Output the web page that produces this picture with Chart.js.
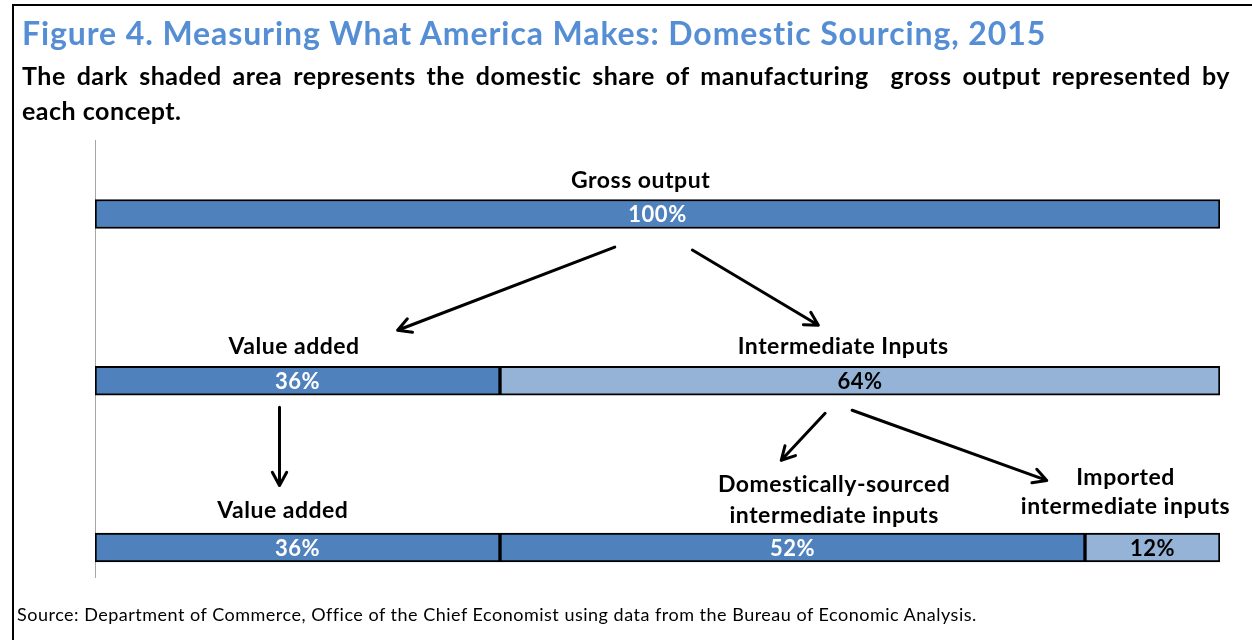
<!DOCTYPE html>
<html lang="en">
<head>
<meta charset="UTF-8">
<title>Figure 4. Measuring What America Makes: Domestic Sourcing, 2015</title>
<script src="https://cdn.jsdelivr.net/npm/chart.js"></script>
<style>
  body { margin: 0; background: #fff; font-family: Lato, "Open Sans", sans-serif; font-variant-ligatures: none; }
  #wrap { position: relative; width: 1252px; height: 640px; overflow: hidden; }
  #frame { position: absolute; left: 12px; top: 4px; right: -10px; bottom: -10px;
    border-left: 2px solid #000; border-top: 2px solid #000; }
  #chartBox { position: absolute; left: 0; top: 0; width: 1252px; height: 640px; }
  #title { position: absolute; left: 22px; top: 13px; font-size: 32px; font-weight: bold;
    letter-spacing: 0.9px; color: #558ed5; white-space: nowrap; }
  #subtitle { position: absolute; left: 22px; top: 58px; width: 1208px; font-size: 25px;
    letter-spacing: 0.5px; font-weight: bold; line-height: 35px; color: #000; }
  #subtitle .full { text-align: justify; text-align-last: justify; white-space: nowrap; }
  #source { position: absolute; left: 17px; top: 603px; font-size: 18px; letter-spacing: 0.5px;
    white-space: nowrap; color: #000; }
</style>
</head>
<body>
<div id="wrap">
  <div id="frame"></div>
  <div id="chartBox"><canvas id="chart"></canvas></div>
  <div id="title">Figure 4. Measuring What America Makes: Domestic Sourcing, 2015</div>
  <div id="subtitle"><div class="full">The dark shaded area represents the domestic share of manufacturing&nbsp; gross output represented by</div><div>each concept.</div></div>
  <div id="source">Source: Department of Commerce, Office of the Chief Economist using data from the Bureau of Economic Analysis.</div>
</div>
<script>
// rows of the figure, top to bottom
const rows = [0, 1, 2];
// share of gross output (%) in each segment of each row
const firstSegment = [100, 36, 36];
const secondSegment = [null, 64, 52];
const thirdSegment = [null, null, 12];
// is the segment domestic (dark) or not (light)
const firstDomestic = [true, true, true];
const secondDomestic = [null, false, true];
const thirdDomestic = [null, null, false];
// concept names written above the bars
const conceptNames = [
  ['Gross output'],
  ['Value added'],
  ['Intermediate Inputs'],
  ['Value added'],
  ['Domestically-sourced', 'intermediate inputs'],
  ['Imported', 'intermediate inputs']
];
const conceptRows = [0, 1, 1, 2, 2, 2];

const DARK = '#4f81bd';
const LIGHT = '#95b3d7';

// where the names sit: x in % of gross output, line baselines in px from bar centre
const nameLayout = [
  { x: 48.5, dy: [-26] },
  { x: 17.7, dy: [-27] },
  { x: 66.5, dy: [-27] },
  { x: 16.7, dy: [-29] },
  { x: 65.7, dy: [-55, -24] },
  { x: 91.6, dy: [-62, -33] }
];
// arrows: [x0, row0, x1, row1]
const arrows = [
  [46.2, 0.198, 26.9, 0.697],
  [53.1, 0.216, 64.3, 0.667],
  [16.4, 1.159, 16.4, 1.628],
  [64.9, 1.195, 61.0, 1.477],
  [67.3, 1.177, 84.6, 1.598]
];

function toPoints(values) {
  return rows.map((r, i) => ({ y: r, x: values[i] }));
}
function shade(flags) {
  return flags.map(f => f ? DARK : LIGHT);
}

const segmentSets = [
  [firstSegment, firstDomestic],
  [secondSegment, secondDomestic],
  [thirdSegment, thirdDomestic]
];

const datasets = segmentSets.map(([vals, dom]) => ({
  data: toPoints(vals),
  backgroundColor: shade(dom),
  borderColor: '#000',
  borderWidth: 2,
  borderSkipped: false,
  barThickness: 29
}));

const barText = {
  id: 'barText',
  afterDatasetsDraw(chart) {
    const ctx = chart.ctx;
    ctx.save();
    ctx.font = 'bold 22px Lato';
    ctx.letterSpacing = '0.5px';
    ctx.textAlign = 'center';
    ctx.textBaseline = 'middle';
    chart.data.datasets.forEach((ds, i) => {
      const meta = chart.getDatasetMeta(i);
      meta.data.forEach((el, j) => {
        const v = ds.data[j].x;
        if (v == null) return;
        ctx.fillStyle = ds.backgroundColor[j] === DARK ? '#fff' : '#000';
        ctx.fillText(v + '%', (el.x + el.base) / 2, el.y + 1);
      });
    });
    ctx.restore();
  }
};

const annotations = {
  id: 'annotations',
  afterDraw(chart) {
    const ctx = chart.ctx;
    const xs = chart.scales.x, ys = chart.scales.y;
    ctx.save();
    ctx.fillStyle = '#000';
    ctx.font = 'bold 23px Lato';
    ctx.letterSpacing = '0.5px';
    ctx.textAlign = 'center';
    ctx.textBaseline = 'alphabetic';
    conceptNames.forEach((lines, i) => {
      const lay = nameLayout[i];
      const cx = xs.getPixelForValue(lay.x);
      const cy = ys.getPixelForValue(conceptRows[i]);
      lines.forEach((t, k) => ctx.fillText(t, cx, cy + lay.dy[k]));
    });
    ctx.strokeStyle = '#000';
    ctx.lineWidth = 3;
    ctx.lineCap = 'round';
    ctx.lineJoin = 'round';
    arrows.forEach(([xa, ya, xb, yb]) => {
      const x0 = xs.getPixelForValue(xa), y0 = ys.getPixelForValue(ya);
      const x1 = xs.getPixelForValue(xb), y1 = ys.getPixelForValue(yb);
      const ang = Math.atan2(y1 - y0, x1 - x0);
      const head = 15;
      ctx.beginPath();
      ctx.moveTo(x0, y0);
      ctx.lineTo(x1, y1);
      ctx.moveTo(x1 - head * Math.cos(ang - 0.5), y1 - head * Math.sin(ang - 0.5));
      ctx.lineTo(x1, y1);
      ctx.lineTo(x1 - head * Math.cos(ang + 0.5), y1 - head * Math.sin(ang + 0.5));
      ctx.stroke();
    });
    ctx.restore();
  }
};

new Chart(document.getElementById('chart'), {
  type: 'bar',
  data: { datasets },
  options: {
    indexAxis: 'y',
    responsive: true,
    maintainAspectRatio: false,
    animation: false,
    layout: { padding: { left: 95, right: 32, top: 140, bottom: 63 } },
    scales: {
      x: { type: 'linear', stacked: true, min: 0, max: 100, display: false },
      y: {
        type: 'linear', stacked: true, reverse: true, offset: false,
        min: -0.444, max: 2.177,
        grid: { display: false, drawTicks: false },
        ticks: { display: false },
        border: { display: true, color: '#a6a6a6', width: 1 }
      }
    },
    plugins: { legend: { display: false }, tooltip: { enabled: false } }
  },
  plugins: [barText, annotations]
});
</script>
</body>
</html>
